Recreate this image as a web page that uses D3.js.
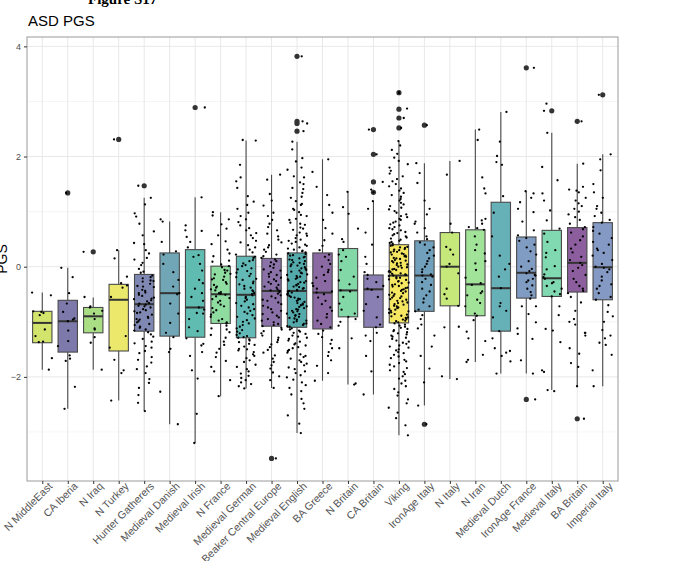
<!DOCTYPE html>
<html><head><meta charset="utf-8">
<script src="https://cdn.jsdelivr.net/npm/d3@7"></script>
<style>html,body{margin:0;padding:0;background:#fff;}svg{display:block;}</style>
</head><body>
<script>
const categories = ["N MiddleEast","CA Iberia","N Iraq","N Turkey","Hunter Gatherers","Medieval Danish","Medieval Irish","N France","Medieval German","Beaker Central Europe","Medieval English","BA Greece","N Britain","CA Britain","Viking","IronAge Italy","N Italy","N Iran","Medieval Dutch","IronAge France","Medieval Italy","BA Britain","Imperial Italy"];
const whiskerHigh = [-0.47,-0.02,-0.56,0.30,1.25,0.82,1.26,0.99,2.29,1.67,2.27,1.95,1.36,1.19,2.28,1.88,1.92,2.49,2.81,1.37,2.43,1.87,2.04];
const q3 = [-0.81,-0.61,-0.74,-0.32,-0.14,0.25,0.31,0.01,0.19,0.15,0.25,0.25,0.33,-0.15,0.40,0.47,0.62,0.67,1.17,0.54,0.66,0.71,0.80];
const medians = [-1.02,-0.99,-0.90,-0.60,-0.68,-0.48,-0.74,-0.50,-0.51,-0.44,-0.44,-0.47,-0.43,-0.41,-0.16,-0.16,0.00,-0.32,-0.39,-0.11,-0.21,0.07,-0.01];
const q1 = [-1.38,-1.55,-1.20,-1.53,-1.17,-1.26,-1.28,-1.03,-1.29,-1.08,-1.10,-1.13,-0.91,-1.10,-1.02,-0.81,-0.71,-0.89,-1.17,-0.57,-0.54,-0.46,-0.60];
const whiskerLow = [-1.87,-2.58,-1.87,-2.43,-2.62,-2.86,-3.20,-2.35,-2.21,-2.20,-3.02,-2.07,-2.14,-2.32,-3.06,-2.52,-2.04,-1.73,-1.94,-1.94,-2.24,-2.17,-2.17];
const outliers = [[],[1.34],[0.27],[2.31],[1.47],[],[2.89],[],[],[-3.48],[3.82,2.64,2.60,2.46],[],[],[2.49,2.04,1.54,1.35],[3.16,2.86,2.70,2.52],[2.57,-2.86],[],[],[],[3.61,-2.41],[2.83],[2.64,-2.76],[3.12]];
const fillColors = ["#d2e46c","#7d79ab","#a9de85","#ece86c","#7f88b3","#70a6b6","#60bcb1","#8edca0","#63b9b5","#8a72a8","#54aaab","#8b6aa3","#83d8a8","#8a7fb3","#f6e763","#70a0bb","#c6e77a","#a2e39a","#66b0b8","#819cc3","#80d9b0","#8c5e9e","#8499c3"];
const yTicks = [-2,0,2,4];

const ptsNMiddleEast = [-0.47,-0.52,-0.81,-0.84,-0.88,-0.82,-1.14,-1.26,-1.37,-1.36,-1.66,-1.87];
const ptsCAIberia = [-0.02,-0.19,-0.48,-0.67,-0.82,-0.94,-0.96,-0.99,-1.16,-1.35,-1.44,-1.61,-1.67,-1.71,-2.18,-2.58,1.34];
const ptsNIraq = [0.27,-0.55,-0.72,-0.74,-0.80,-0.85,-0.95,-1.12,-1.14,-1.28,-1.38,-1.87];
const ptsNTurkey = [2.31,0.30,0.15,-0.18,-0.30,-0.34,-0.38,-0.55,-1.26,-1.47,-1.69,-1.88,-1.93,-2.43];
const ptsHunterGatherers = [1.47,1.25,1.13,0.97,0.91,0.78,0.64,0.57,0.43,0.41,0.30,0.24,0.16,0.13,0.07,0.03,-0.04,-0.09,-0.11,-0.16,-0.19,-0.21,-0.26,-0.27,-0.31,-0.36,-0.37,-0.42,-0.44,-0.47,-0.51,-0.53,-0.56,-0.59,-0.61,-0.63,-0.66,-0.67,-0.69,-0.71,-0.74,-0.77,-0.79,-0.83,-0.84,-0.87,-0.91,-0.93,-0.96,-0.99,-1.01,-1.04,-1.06,-1.09,-1.11,-1.14,-1.16,-1.19,-1.23,-1.27,-1.31,-1.36,-1.39,-1.44,-1.47,-1.53,-1.57,-1.64,-1.69,-1.74,-1.81,-1.86,-1.93,-2.04,-2.11,-2.20,-2.33,-2.47,-2.62,-0.35,-0.58,-0.81,-0.48,-0.72,-0.95,-0.25];
const ptsMedievalDanish = [0.86,0.82,0.45,0.28,0.22,0.05,-0.10,-0.24,-0.36,-0.48,-0.50,-0.67,-0.85,-1.02,-1.20,-1.28,-1.49,-1.55,-2.27,-2.86];
const ptsMedievalIrish = [2.89,1.26,0.75,0.66,0.65,0.54,0.45,0.35,0.21,0.18,0.05,-0.07,-0.24,-0.30,-0.40,-0.48,-0.55,-0.62,-0.74,-0.78,-0.84,-0.85,-0.95,-1.10,-1.17,-1.30,-1.40,-1.43,-1.55,-1.62,-1.88,-2.03,-2.67,-3.20];
const ptsNFrance = [0.99,0.93,0.86,0.77,0.69,0.57,0.46,0.41,0.31,0.24,0.19,0.11,0.09,0.04,0.01,-0.01,-0.06,-0.07,-0.11,-0.13,-0.14,-0.18,-0.21,-0.23,-0.24,-0.28,-0.31,-0.33,-0.36,-0.38,-0.41,-0.43,-0.46,-0.48,-0.49,-0.51,-0.54,-0.57,-0.59,-0.62,-0.65,-0.69,-0.72,-0.75,-0.79,-0.83,-0.87,-0.91,-0.95,-0.98,-1.01,-1.03,-1.07,-1.12,-1.14,-1.19,-1.24,-1.29,-1.36,-1.42,-1.49,-1.56,-1.64,-1.71,-1.82,-1.90,-2.06,-2.35];
const ptsMedievalGerman = [2.30,2.29,1.85,1.62,1.55,1.43,1.28,1.18,1.12,1.05,0.98,0.92,0.86,0.81,0.75,0.70,0.66,0.61,0.57,0.52,0.47,0.44,0.39,0.35,0.31,0.26,0.22,0.18,0.16,0.12,0.10,0.06,0.03,0.01,-0.03,-0.05,-0.08,-0.11,-0.13,-0.17,-0.19,-0.22,-0.24,-0.27,-0.30,-0.32,-0.35,-0.38,-0.40,-0.43,-0.45,-0.48,-0.50,-0.52,-0.55,-0.57,-0.60,-0.63,-0.66,-0.68,-0.71,-0.74,-0.77,-0.80,-0.82,-0.85,-0.88,-0.91,-0.94,-0.97,-1.00,-1.03,-1.06,-1.09,-1.12,-1.15,-1.18,-1.21,-1.24,-1.26,-1.28,-1.29,-1.32,-1.34,-1.37,-1.40,-1.42,-1.45,-1.49,-1.52,-1.55,-1.59,-1.62,-1.66,-1.70,-1.73,-1.78,-1.82,-1.86,-1.90,-1.94,-1.98,-2.02,-2.06,-2.10,-2.13,-2.17,-2.21,-1.50];
const ptsBeaker = [1.67,1.58,1.32,1.20,1.11,0.98,0.92,0.85,0.78,0.72,0.66,0.60,0.55,0.49,0.44,0.39,0.35,0.31,0.27,0.22,0.19,0.16,0.13,0.10,0.08,0.04,0.01,-0.02,-0.05,-0.07,-0.10,-0.13,-0.15,-0.18,-0.20,-0.23,-0.26,-0.28,-0.31,-0.33,-0.36,-0.38,-0.41,-0.43,-0.44,-0.46,-0.49,-0.52,-0.54,-0.57,-0.60,-0.62,-0.65,-0.68,-0.71,-0.74,-0.77,-0.80,-0.83,-0.86,-0.89,-0.92,-0.95,-0.98,-1.01,-1.04,-1.06,-1.08,-1.11,-1.14,-1.17,-1.21,-1.25,-1.29,-1.33,-1.37,-1.41,-1.46,-1.51,-1.56,-1.61,-1.67,-1.73,-1.79,-1.85,-1.92,-1.99,-2.06,-2.20,-3.48];
const ptsMedievalEnglish = [3.82,2.64,2.60,2.46,2.27,2.13,1.97,1.91,1.80,1.76,1.64,1.62,1.53,1.50,1.43,1.41,1.34,1.27,1.25,1.19,1.14,1.12,1.05,1.03,0.99,0.94,0.92,0.87,0.85,0.80,0.78,0.76,0.71,0.69,0.67,0.62,0.60,0.57,0.56,0.52,0.49,0.47,0.45,0.42,0.40,0.38,0.35,0.33,0.31,0.29,0.28,0.26,0.24,0.23,0.21,0.20,0.18,0.17,0.15,0.13,0.12,0.10,0.08,0.07,0.05,0.04,0.02,0.01,-0.01,-0.03,-0.04,-0.06,-0.07,-0.09,-0.11,-0.12,-0.14,-0.15,-0.17,-0.18,-0.20,-0.22,-0.23,-0.25,-0.26,-0.28,-0.29,-0.31,-0.33,-0.34,-0.36,-0.37,-0.39,-0.40,-0.42,-0.43,-0.44,-0.45,-0.47,-0.48,-0.50,-0.51,-0.53,-0.55,-0.56,-0.58,-0.59,-0.61,-0.62,-0.64,-0.66,-0.67,-0.69,-0.70,-0.72,-0.73,-0.75,-0.77,-0.78,-0.80,-0.81,-0.83,-0.85,-0.86,-0.88,-0.89,-0.91,-0.93,-0.94,-0.96,-0.98,-0.99,-1.01,-1.03,-1.04,-1.06,-1.08,-1.09,-1.12,-1.14,-1.16,-1.18,-1.20,-1.22,-1.25,-1.27,-1.29,-1.31,-1.34,-1.36,-1.39,-1.41,-1.43,-1.46,-1.48,-1.51,-1.53,-1.56,-1.59,-1.62,-1.64,-1.67,-1.70,-1.73,-1.76,-1.79,-1.83,-1.86,-1.90,-1.93,-1.97,-2.01,-2.05,-2.10,-2.15,-2.20,-2.26,-2.32,-2.40,-2.48,-2.58,-2.70,-2.85,-3.02];
const ptsBAGreece = [1.95,1.72,1.45,1.30,1.12,0.98,0.85,0.70,0.60,0.48,0.38,0.30,0.22,0.18,0.12,0.05,0.00,-0.06,-0.10,-0.15,-0.20,-0.26,-0.30,-0.35,-0.40,-0.45,-0.47,-0.50,-0.56,-0.62,-0.68,-0.74,-0.80,-0.86,-0.92,-0.98,-1.04,-1.10,-1.16,-1.22,-1.28,-1.33,-1.40,-1.48,-1.55,-1.62,-1.70,-1.80,-1.93,-2.07];
const ptsNBritain = [1.36,1.08,0.96,0.69,0.50,0.45,0.30,0.22,0.18,0.10,-0.06,-0.18,-0.25,-0.32,-0.43,-0.45,-0.55,-0.67,-0.78,-0.85,-0.91,-0.95,-1.00,-1.07,-1.30,-1.48,-2.12,-2.14];
const ptsCABritain = [2.49,2.04,1.54,1.35,1.40,1.19,1.05,0.62,0.40,0.18,0.05,-0.10,-0.15,-0.22,-0.28,-0.35,-0.40,-0.42,-0.55,-0.68,-0.80,-0.92,-1.05,-1.10,-1.20,-1.25,-1.35,-1.62,-1.90,-2.32];
const ptsViking = [3.17,3.15,2.87,2.70,2.52,2.28,2.20,2.12,2.05,1.98,1.92,1.86,1.80,1.74,1.69,1.64,1.59,1.55,1.50,1.46,1.42,1.38,1.34,1.30,1.27,1.23,1.20,1.16,1.13,1.10,1.07,1.04,1.01,0.98,0.95,0.92,0.90,0.87,0.85,0.82,0.80,0.77,0.75,0.72,0.70,0.68,0.66,0.63,0.61,0.59,0.57,0.55,0.53,0.51,0.49,0.47,0.45,0.43,0.42,0.39,0.38,0.36,0.35,0.34,0.32,0.31,0.30,0.28,0.27,0.26,0.24,0.23,0.22,0.20,0.19,0.18,0.16,0.15,0.14,0.12,0.11,0.10,0.08,0.07,0.06,0.04,0.03,0.02,0.00,-0.01,-0.02,-0.04,-0.05,-0.06,-0.08,-0.09,-0.10,-0.12,-0.13,-0.14,-0.15,-0.16,-0.17,-0.19,-0.20,-0.21,-0.23,-0.24,-0.26,-0.27,-0.29,-0.30,-0.32,-0.33,-0.35,-0.36,-0.38,-0.39,-0.41,-0.42,-0.44,-0.45,-0.47,-0.48,-0.50,-0.51,-0.53,-0.54,-0.56,-0.57,-0.59,-0.60,-0.62,-0.63,-0.65,-0.66,-0.68,-0.69,-0.71,-0.72,-0.74,-0.75,-0.77,-0.78,-0.80,-0.81,-0.83,-0.84,-0.86,-0.87,-0.89,-0.90,-0.92,-0.93,-0.95,-0.96,-0.98,-0.99,-1.01,-1.03,-1.05,-1.07,-1.09,-1.11,-1.13,-1.15,-1.17,-1.19,-1.21,-1.23,-1.25,-1.27,-1.29,-1.31,-1.34,-1.36,-1.38,-1.40,-1.43,-1.45,-1.47,-1.50,-1.52,-1.55,-1.57,-1.60,-1.63,-1.66,-1.69,-1.72,-1.75,-1.78,-1.81,-1.84,-1.88,-1.91,-1.95,-1.99,-2.03,-2.07,-2.12,-2.17,-2.22,-2.28,-2.34,-2.41,-2.48,-2.56,-2.65,-2.75,-2.88,-3.06];
const ptsIronAgeItaly = [2.57,1.88,1.70,1.52,1.20,1.05,0.95,0.82,0.78,0.70,0.62,0.55,0.50,0.44,0.40,0.35,0.30,0.25,0.20,0.15,0.10,0.05,0.00,-0.05,-0.10,-0.14,-0.16,-0.18,-0.22,-0.28,-0.33,-0.40,-0.45,-0.52,-0.58,-0.65,-0.72,-0.78,-0.81,-0.88,-0.95,-1.05,-1.12,-1.25,-1.45,-1.62,-1.85,-2.10,-2.52,-2.86];
const ptsNItaly = [1.92,1.67,0.78,0.62,0.36,0.31,0.22,0.05,0.00,-0.12,-0.40,-0.50,-0.58,-0.71,-1.09,-1.10,-1.99,-2.04];
const ptsNIran = [2.49,2.30,1.62,1.42,1.33,0.87,0.84,0.78,0.72,0.70,0.67,0.55,0.40,0.30,0.24,0.10,0.06,-0.06,-0.20,-0.30,-0.33,-0.45,-0.48,-0.52,-0.60,-0.66,-0.72,-0.85,-0.89,-0.97,-1.18,-1.30,-1.35,-1.60,-1.69,-1.73];
const ptsMedievalDutch = [2.81,2.27,2.01,1.90,1.85,1.28,0.98,0.55,0.20,0.05,-0.05,-0.18,-0.39,-0.66,-0.72,-0.80,-0.92,-1.17,-1.30,-1.48,-1.53,-1.56,-1.62,-1.72,-1.94];
const ptsIronAgeFrance = [3.61,1.37,1.33,1.25,1.17,1.05,0.99,0.82,0.66,0.57,0.52,0.47,0.40,0.35,0.28,0.22,0.10,0.00,-0.04,-0.08,-0.12,-0.15,-0.16,-0.22,-0.25,-0.28,-0.34,-0.40,-0.46,-0.52,-0.58,-0.72,-0.72,-0.86,-1.01,-1.12,-1.22,-1.31,-1.70,-1.94,-2.41];
const ptsMedievalItaly = [2.96,2.83,2.43,1.81,1.57,1.33,1.20,1.02,0.84,0.69,0.60,0.45,0.30,0.25,0.17,0.01,-0.05,-0.14,-0.19,-0.22,-0.28,-0.30,-0.35,-0.40,-0.45,-0.50,-0.54,-0.72,-0.88,-1.13,-1.16,-1.37,-1.88,-1.91,-2.24,-2.26];
const ptsBABritain = [2.64,1.87,1.45,1.40,1.38,1.35,1.25,1.20,1.15,1.10,1.05,1.00,0.95,0.90,0.85,0.78,0.72,0.68,0.62,0.55,0.48,0.40,0.33,0.26,0.18,0.12,0.07,0.03,-0.02,-0.08,-0.15,-0.22,-0.28,-0.35,-0.40,-0.44,-0.48,-0.55,-0.65,-0.80,-0.95,-1.00,-1.05,-1.20,-1.20,-1.25,-1.48,-1.58,-1.75,-1.82,-2.17,-2.76];
const ptsImperialItaly = [3.12,2.04,1.95,1.75,1.50,1.35,1.25,1.10,1.05,0.98,0.92,0.85,0.80,0.72,0.65,0.60,0.52,0.45,0.40,0.33,0.30,0.25,0.20,0.12,0.05,0.00,-0.02,-0.05,-0.10,-0.18,-0.25,-0.32,-0.35,-0.40,-0.48,-0.55,-0.60,-0.70,-0.82,-0.90,-1.00,-1.15,-1.25,-1.30,-1.38,-1.42,-1.60,-1.88,-2.17];

const groupPoints = [ptsNMiddleEast,ptsCAIberia,ptsNIraq,ptsNTurkey,ptsHunterGatherers,ptsMedievalDanish,ptsMedievalIrish,ptsNFrance,ptsMedievalGerman,ptsBeaker,ptsMedievalEnglish,ptsBAGreece,ptsNBritain,ptsCABritain,ptsViking,ptsIronAgeItaly,ptsNItaly,ptsNIran,ptsMedievalDutch,ptsIronAgeFrance,ptsMedievalItaly,ptsBABritain,ptsImperialItaly];

const W = 680, H = 561;
const M = {left: 27, right: 618, top: 37, bottom: 481};
const svg = d3.select("body").append("svg").attr("width", W).attr("height", H)
  .style("font-family", "'Liberation Sans', Arial, sans-serif");

const x = d3.scalePoint().domain(categories).range([M.left, M.right]).padding(0.6);
const step = x.step();
const y = d3.scaleLinear().domain([-3.89, 4.17]).range([M.bottom, M.top]);

// panel background and grid
svg.append("rect").attr("x", M.left).attr("y", M.top).attr("width", M.right - M.left).attr("height", M.bottom - M.top).attr("fill", "#fff");
const grid = svg.append("g");
[-3,-1,1,3].forEach(v => grid.append("line").attr("x1", M.left).attr("x2", M.right).attr("y1", y(v)).attr("y2", y(v)).attr("stroke", "#f3f3f3").attr("stroke-width", 0.8));
yTicks.forEach(v => grid.append("line").attr("x1", M.left).attr("x2", M.right).attr("y1", y(v)).attr("y2", y(v)).attr("stroke", "#e8e8e8").attr("stroke-width", 1));
categories.forEach(c => grid.append("line").attr("x1", x(c)).attr("x2", x(c)).attr("y1", M.top).attr("y2", M.bottom).attr("stroke", "#e8e8e8").attr("stroke-width", 1));

// boxplots
const bw = step * 0.76;
const boxes = svg.append("g");
categories.forEach((c, i) => {
  const cx = x(c);
  const g = boxes.append("g");
  g.append("line").attr("x1", cx).attr("x2", cx).attr("y1", y(whiskerHigh[i])).attr("y2", y(q3[i])).attr("stroke", "#4a4a4a").attr("stroke-width", 1.1);
  g.append("line").attr("x1", cx).attr("x2", cx).attr("y1", y(q1[i])).attr("y2", y(whiskerLow[i])).attr("stroke", "#4a4a4a").attr("stroke-width", 1.1);
  g.append("rect").attr("x", cx - bw / 2).attr("y", y(q3[i])).attr("width", bw).attr("height", y(q1[i]) - y(q3[i]))
    .attr("fill", fillColors[i]).attr("stroke", "#4a4a4a").attr("stroke-width", 1.1);
  g.append("line").attr("x1", cx - bw / 2).attr("x2", cx + bw / 2).attr("y1", y(medians[i])).attr("y2", y(medians[i])).attr("stroke", "#333").attr("stroke-width", 2);
  outliers[i].forEach(v => g.append("circle").attr("cx", cx).attr("cy", y(v)).attr("r", 2.6).attr("fill", "#333"));
});

// jittered points (deterministic hash jitter)
function jit(i, g) { const s = Math.sin(i * 12.9898 + g * 78.233) * 43758.5453; return s - Math.floor(s); }
const pts = svg.append("g");
groupPoints.forEach((arr, gi) => {
  const cx = x(categories[gi]);
  arr.forEach((v, i) => {
    pts.append("circle").attr("cx", cx + (jit(i, gi) - 0.5) * 2 * 0.4 * step).attr("cy", y(v)).attr("r", 1.15).attr("fill", "#000");
  });
});

// panel border
svg.append("rect").attr("x", M.left).attr("y", M.top).attr("width", M.right - M.left).attr("height", M.bottom - M.top)
  .attr("fill", "none").attr("stroke", "#9a9a9a").attr("stroke-width", 1);

// y axis
const yAxis = svg.append("g").attr("transform", `translate(${M.left},0)`)
  .call(d3.axisLeft(y).tickValues(yTicks).tickSize(3).tickPadding(3).tickFormat(d3.format("d")));
yAxis.select(".domain").remove();
yAxis.selectAll(".tick line").attr("stroke", "#333");
yAxis.selectAll("text").attr("fill", "#4d4d4d").style("font-size", "9px").style("font-family", "'Liberation Sans', Arial, sans-serif");

// x axis
const xAxis = svg.append("g").attr("transform", `translate(0,${M.bottom})`)
  .call(d3.axisBottom(x).tickSize(3).tickPadding(2));
xAxis.select(".domain").remove();
xAxis.selectAll(".tick line").attr("stroke", "#333");
xAxis.selectAll("text").attr("fill", "#555").style("font-size", "10.6px").style("font-family", "'Liberation Sans', Arial, sans-serif")
  .attr("text-anchor", "end").attr("dy", "0.7em").attr("y", 4).attr("x", 3)
  .attr("transform", "rotate(-45)");

// titles
svg.append("text").attr("x", 28).attr("y", 26).text("ASD PGS").style("font-size", "15px").attr("fill", "#000");
svg.append("text").attr("x", 88).attr("y", 4).text("Figure S17").style("font-family", "'Liberation Serif', 'DejaVu Serif', serif").style("font-weight", "bold").style("font-size", "15px").attr("fill", "#000");
svg.append("text").attr("transform", "translate(7,259) rotate(-90)").attr("text-anchor", "middle").text("PGS").style("font-size", "14px").attr("fill", "#000");
</script>
</body></html>
